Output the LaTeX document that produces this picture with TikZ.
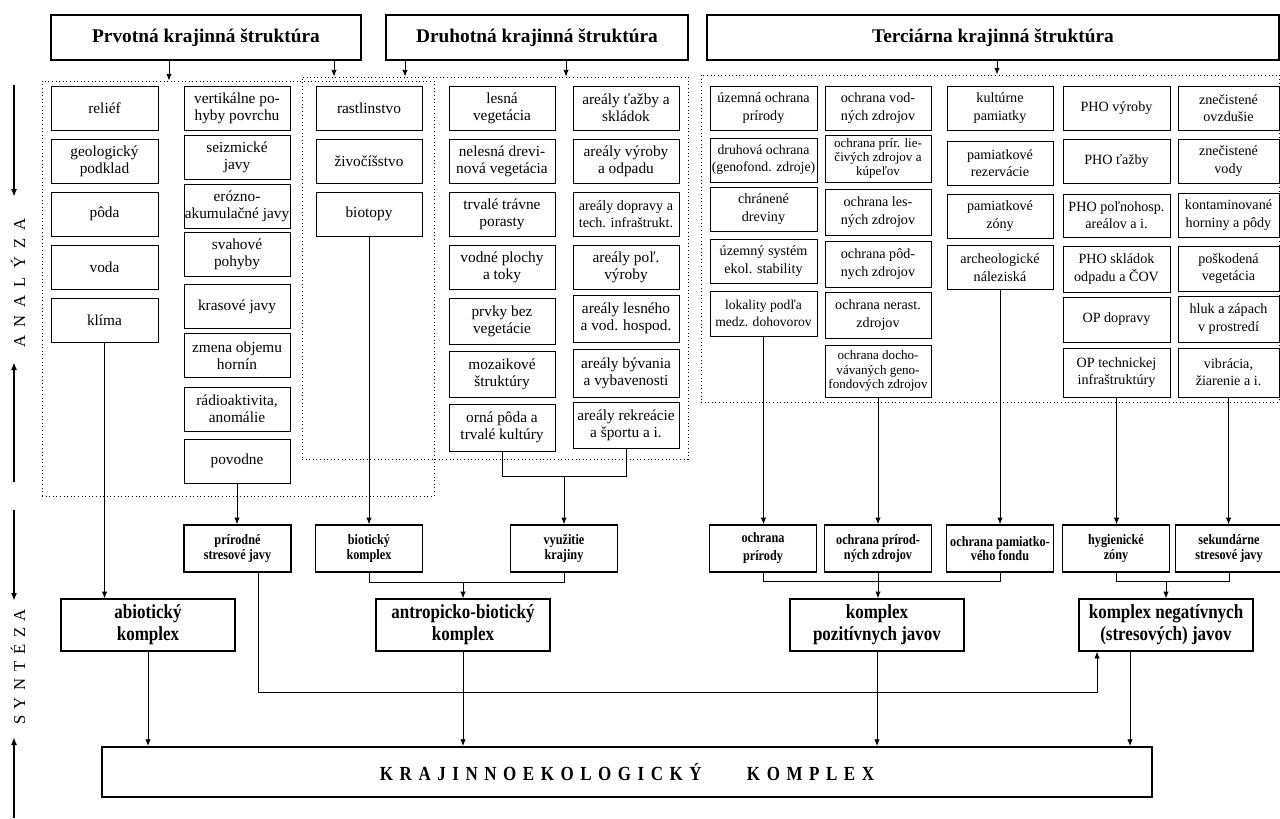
\documentclass[tikz,border=0pt]{standalone}
\usepackage{fontspec}
\setmainfont{Liberation Serif}
\newfontfamily\condserif{Liberation Serif}[FakeStretch=0.85]
\usetikzlibrary{arrows.meta}
\newcommand{\kgap}{\hspace{4.9pt}}
\newcommand{\agap}{\hspace{6pt}}
\tikzset{
    >={Latex[length=5pt,width=4pt]},
    cell/.style={draw, line width=0.6pt, minimum width=79.5pt, minimum height=33pt, inner sep=0pt, align=center, font=\fontsize{11.5}{12.8}\selectfont},
    tcell/.style={cell, font=\fontsize{10.6}{13}\selectfont},
    scell/.style={cell, font=\fontsize{9.8}{10.6}\selectfont},
    wd/.style={minimum width=#1*0.75pt},
    ht/.style={minimum height=#1*0.75pt},
    head/.style={draw, line width=1.4pt, minimum height=33.75pt, inner sep=0pt, font=\bfseries\fontsize{14.5}{16}\selectfont},
    synth/.style={draw, line width=1.1pt, minimum width=80pt, minimum height=35.25pt, inner sep=0pt, align=center, font=\condserif\bfseries\fontsize{10.8}{11}\selectfont},
    cplx/.style={draw, line width=1.1pt, minimum width=130.5pt, minimum height=39pt, inner sep=0pt, align=center, font=\condserif\bfseries\fontsize{15}{16.5}\selectfont},
    group/.style={draw, dotted, line width=0.7pt, inner sep=0pt},
    link/.style={line width=0.6pt},
    side/.style={line width=1.4pt, >={Latex[length=6pt,width=4.5pt]}},
}
\begin{document}
\begin{tikzpicture}[x=0.75pt, y=-0.75pt]
    \useasboundingbox (0,0) rectangle (1280,818);

    % structures
    \node[head, wd=310] (hPrv) at (206,37.5) {Prvotná krajinná štruktúra};
    \node[head, wd=302] (hDru) at (537,37.5) {Druhotná krajinná štruktúra};
    \node[head, wd=572] (hTer) at (993,37.5) {Terciárna krajinná štruktúra};

    \node[group, wd=392, ht=415] (dA) at (238,288.5) {};
    \node[group, wd=386, ht=382] (dB) at (495,268) {};
    \node[group, wd=578, ht=327] (dC) at (990,238.5) {};

    % prvotna
    \node[cell, wd=107] (a1) at (104.5,108) {reliéf};
    \node[cell, wd=107] (a2) at (104.5,161) {geologický\\podklad};
    \node[cell, wd=107] (a3) at (104.5,214) {pôda};
    \node[cell, wd=107] (a4) at (104.5,267) {voda};
    \node[cell, wd=107] (a5) at (104.5,320) {klíma};

    \node[cell] (b1) at (237,108) {vertikálne po-\\hyby povrchu};
    \node[cell] (b2) at (237,157) {seizmické\\javy};
    \node[cell] (b3) at (237,206) {erózno-\\akumulačné javy};
    \node[cell] (b4) at (237,254.5) {svahové\\pohyby};
    \node[cell] (b5) at (237,306.5) {krasové javy};
    \node[cell] (b6) at (237,355.5) {zmena objemu\\hornín};
    \node[cell] (b7) at (237,409) {rádioaktivita,\\anomálie};
    \node[cell] (b8) at (237,461) {povodne};

    \node[cell] (c1) at (369,108) {rastlinstvo};
    \node[cell] (c2) at (369,161) {živočíšstvo};
    \node[cell] (c3) at (369,214) {biotopy};

    % druhotna
    \node[cell] (d1) at (502,108) {lesná\\vegetácia};
    \node[cell] (d2) at (502,161) {nelesná drevi-\\nová vegetácia};
    \node[cell] (d3) at (502,214) {trvalé trávne\\porasty};
    \node[cell] (d4) at (502,267) {vodné plochy\\a toky};
    \node[cell, ht=46] (d5) at (502,321) {prvky bez\\vegetácie};
    \node[cell, ht=46] (d6) at (502,374) {mozaikové\\štruktúry};
    \node[cell, ht=47] (d7) at (502,427.5) {orná pôda a\\trvalé kultúry};

    \node[cell] (e1) at (626,108) {areály ťažby a\\skládok};
    \node[cell] (e2) at (626,161) {areály výroby\\a odpadu};
    \node[tcell] (e3) at (626,214) {areály dopravy a\\tech. infraštrukt.};
    \node[cell] (e4) at (626,267) {areály poľ.\\výroby};
    \node[cell, ht=47] (e5) at (626,318.5) {areály lesného\\a vod. hospod.};
    \node[cell, ht=48] (e6) at (626,373) {areály bývania\\a vybavenosti};
    \node[cell, ht=46] (e7) at (626,425) {areály rekreácie\\a športu a i.};

    % terciarna
    \node[tcell, wd=107] (f1) at (763.5,108) {územná ochrana\\prírody};
    \node[tcell, wd=107, font=\fontsize{10.3}{13}\selectfont] (f2) at (763.5,160) {druhová ochrana\\(genofond. zdroje)};
    \node[tcell, wd=107] (f3) at (763.5,209) {chránené\\dreviny};
    \node[tcell, wd=107] (f4) at (763.5,261) {územný systém\\ekol. stability};
    \node[tcell, wd=107, ht=45, font=\fontsize{10.2}{13}\selectfont] (f5) at (763.5,313.5) {lokality podľa\\medz. dohovorov};

    \node[tcell] (g1) at (878,108) {ochrana vod-\\ných zdrojov};
    \node[scell, ht=47] (g2) at (878,158.5) {ochrana prír. lie-\\čivých zdrojov a\\kúpeľov};
    \node[tcell, ht=46] (g3) at (878,212) {ochrana les-\\ných zdrojov};
    \node[tcell, ht=46] (g4) at (878,264) {ochrana pôd-\\nych zdrojov};
    \node[tcell, ht=46] (g5) at (878,315) {ochrana nerast.\\zdrojov};
    \node[scell, ht=52] (g6) at (878,371) {ochrana docho-\\vávaných geno-\\fondových zdrojov};

    \node[tcell] (h1) at (1000,108) {kultúrne\\pamiatky};
    \node[tcell] (h2) at (1000,163) {pamiatkové\\rezervácie};
    \node[tcell] (h3) at (1000,216) {pamiatkové\\zóny};
    \node[tcell] (h4) at (1000,267.5) {archeologické\\náleziská};

    \node[tcell, wd=107] (i1) at (1116.5,108) {PHO výroby};
    \node[tcell, wd=107] (i2) at (1116.5,161) {PHO ťažby};
    \node[tcell, wd=107, ht=43] (i3) at (1116.5,215.5) {PHO poľnohosp.\\areálov a i.};
    \node[tcell, wd=107, ht=46] (i4) at (1116.5,269) {PHO skládok\\odpadu a ČOV};
    \node[tcell, wd=107, ht=45] (i5) at (1116.5,319.5) {OP dopravy};
    \node[tcell, wd=107, ht=49] (i6) at (1116.5,372.5) {OP technickej\\infraštruktúry};

    \node[tcell, wd=101] (j1) at (1228.5,108) {znečistené\\ovzdušie};
    \node[tcell, wd=101] (j2) at (1228.5,161) {znečistené\\vody};
    \node[tcell, wd=101] (j3) at (1228.5,215) {kontaminované\\horniny a pôdy};
    \node[tcell, wd=101, ht=45] (j4) at (1228.5,268.5) {poškodená\\vegetácia};
    \node[tcell, wd=101, ht=46] (j5) at (1228.5,319) {hluk a zápach\\v prostredí};
    \node[tcell, wd=101, ht=49] (j6) at (1228.5,372.5) {vibrácia,\\žiarenie a i.};

    % synteza
    \node[synth] (sPri) at (237.5,548.5) {prírodné\\stresové javy};
    \node[synth] (sBio) at (369,548.5) {biotický\\komplex};
    \node[synth] (sVyu) at (564,548.5) {využitie\\krajiny};
    \node[synth, font=\condserif\bfseries\fontsize{10.8}{13.5}\selectfont] (sOPr) at (763,548.5) {ochrana\\prírody};
    \node[synth] (sOPZ) at (878,548.5) {ochrana prírod-\\ných zdrojov};
    \node[synth] (sOPF) at (1000,548.5) {ochrana pamiatko-\\vého fondu};
    \node[synth] (sHyg) at (1116,548.5) {hygienické\\zóny};
    \node[synth] (sSek) at (1229,548.5) {sekundárne\\stresové javy};

    \node[cplx] (kAbi) at (148,625) {abiotický\\komplex};
    \node[cplx] (kAnt) at (463,625) {antropicko-biotický\\komplex};
    \node[cplx] (kPoz) at (877,625) {komplex\\pozitívnych javov};
    \node[cplx] (kNeg) at (1166,625) {komplex negatívnych\\(stresových) javov};

    \node[draw, line width=1.5pt, wd=1050, ht=50, font=\condserif\bfseries\fontsize{15}{15}\selectfont] (kle) at (627,772)
        {K\kgap R\kgap A\kgap J\kgap I\kgap N\kgap N\kgap O\kgap E\kgap K\kgap O\kgap L\kgap O\kgap G\kgap I\kgap C\kgap K\kgap Ý\hspace{34pt}K\kgap O\kgap M\kgap P\kgap L\kgap E\kgap X};

    % side labels
    \node[rotate=90, font=\fontsize{12.5}{14}\selectfont] (ana) at (18,283) {A\agap N\agap A\agap L\agap Ý\agap Z\agap A};
    \node[rotate=90, font=\fontsize{12.5}{14}\selectfont] (syn) at (18,667) {S\hspace{5pt}Y\hspace{5pt}N\hspace{5pt}T\hspace{5pt}É\hspace{5pt}Z\hspace{5pt}A};
    \coordinate (ana1) at (14,85);
    \coordinate (ana2) at (14,197);
    \coordinate (ana3) at (14,482);
    \coordinate (ana4) at (14,362);
    \coordinate (syn1) at (14,510);
    \coordinate (syn2) at (14,601);
    \coordinate (syn3) at (14,818);
    \coordinate (syn4) at (14,737);
    \draw[side,->] (ana1) -- (ana2);
    \draw[side,->] (ana3) -- (ana4);
    \draw[side,->] (syn1) -- (syn2);
    \draw[side,->] (syn3) -- (syn4);

    % headers to groups
    \draw[link,->] (169,0 |- hPrv.south) -- (169,0 |- dA.north);
    \draw[link,->] (334,0 |- hPrv.south) -- (334,0 |- dB.north);
    \draw[link,->] (405,0 |- hDru.south) -- (405,0 |- dB.north);
    \draw[link,->] (566,0 |- hDru.south) -- (566,0 |- dB.north);
    \draw[link,->] (997,0 |- hTer.south) -- (997,0 |- dC.north);

    % analysis to synthesis
    \draw[link,->] (a5.south) -- (a5.south |- kAbi.north);
    \draw[link,->] (b8.south) -- (b8.south |- sPri.north);
    \draw[link,->] (c3.south) -- (c3.south |- sBio.north);
    \coordinate (jDru) at (564,476);
    \draw[link] (d7.south) |- (jDru) -| (e7.south);
    \draw[link,->] (jDru) -- (jDru |- sVyu.north);
    \draw[link,->] (f5.south) -- (f5.south |- sOPr.north);
    \draw[link,->] (g6.south) -- (g6.south |- sOPZ.north);
    \draw[link,->] (h4.south) -- (h4.south |- sOPF.north);
    \draw[link,->] (i6.south) -- (i6.south |- sHyg.north);
    \draw[link,->] (j6.south) -- (j6.south |- sSek.north);

    % synthesis
    \coordinate (jAnt) at (463,582);
    \draw[link] (sBio.south) |- (jAnt) -| (sVyu.south);
    \draw[link,->] (jAnt) -- (jAnt |- kAnt.north);
    \coordinate (jPoz) at (878,581);
    \draw[link] (sOPr.south) |- (jPoz) -| (sOPF.south);
    \draw[link,->] (sOPZ.south) -- (sOPZ.south |- kPoz.north);
    \coordinate (jNeg) at (1166,581);
    \draw[link] (sHyg.south) |- (jNeg) -| (sSek.south);
    \draw[link,->] (jNeg) -- (jNeg |- kNeg.north);
    \coordinate (jStr) at (1097,692);
    \draw[link,->] (258,0 |- sPri.south) |- (jStr) -- (jStr |- kNeg.south);

    \draw[link,->] (kAbi.south) -- (kAbi.south |- kle.north);
    \draw[link,->] (kAnt.south) -- (kAnt.south |- kle.north);
    \draw[link,->] (kPoz.south) -- (kPoz.south |- kle.north);
    \draw[link,->] (1130,0 |- kNeg.south) -- (1130,0 |- kle.north);
\end{tikzpicture}
\end{document}
